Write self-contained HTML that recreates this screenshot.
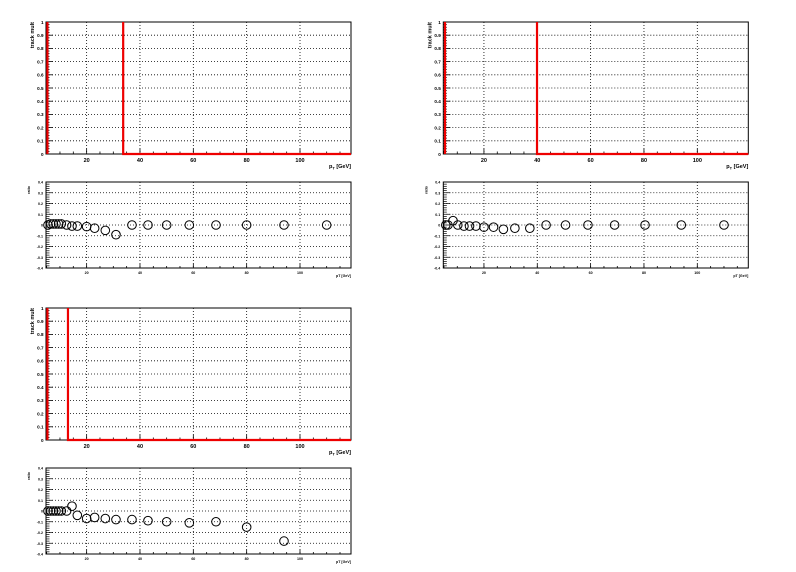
<!DOCTYPE html>
<html><head><meta charset="utf-8">
<style>
html,body{margin:0;padding:0;background:#fff;}
svg{display:block;font-family:"Liberation Sans",Arial,sans-serif;}
</style></head>
<body>
<svg id="c" width="796" height="572" viewBox="0 0 796 572"></svg>
<script>
// ---- data ----
const pad1X = [5.5,6.5,7.5,8.5,9.5,10.5,12.5,14.5,16.5,20,23,27,31,37,43,50,58.5,68.5,80,94,110];
const pad1Y = [0,0.01,0.01,0.01,0.01,0.01,0.0,-0.01,-0.01,-0.015,-0.03,-0.05,-0.09,0,0,0,0,0,0,0,0];
const pad2X = [5.7,6.5,8.4,10.2,12.5,14.6,17,20,23.6,27.3,31.6,37.2,43.3,50.6,59,69,80.4,94,110];
const pad2Y = [0,0,0.04,0,-0.01,-0.01,-0.01,-0.02,-0.02,-0.04,-0.03,-0.03,0,0,0,0,0,0,0];
const pad3X = [5.5,6.5,7.5,8.5,9.5,10.5,12.5,14.5,16.5,20,23,27,31,37,43,50,58.5,68.5,80,94];
const pad3Y = [0,0,0,0,0,0,0,0.045,-0.04,-0.07,-0.06,-0.07,-0.08,-0.08,-0.09,-0.1,-0.11,-0.1,-0.15,-0.28];
const cuts = [33.7, 39.9, 13.0];
const histStart = [5.3, 5.4, 5.3];
const xTickLabels = ["20","40","60","80","100"];
const yMainLabels = ["0","0.1","0.2","0.3","0.4","0.5","0.6","0.7","0.8","0.9","1"];
const yRatioLabels = ["-0.4","-0.3","-0.2","-0.1","0","0.1","0.2","0.3","0.4"];

const NS="http://www.w3.org/2000/svg";
const svg=document.getElementById('c');
function mk(tag,attrs,parent){const e=document.createElementNS(NS,tag);for(const k in attrs)e.setAttribute(k,attrs[k]);(parent||svg).appendChild(e);return e;}

const pads=[{dx:0,dy:0,X:pad1X,Y:pad1Y},{dx:397.3,dy:0,X:pad2X,Y:pad2Y},{dx:0,dy:286,X:pad3X,Y:pad3Y}];
const XMIN=4.75, XMAX=119.2;

pads.forEach((p,i)=>{
  const g=mk('g',{});
  
  
  const L=46+p.dx, R=351+p.dx;
  const sx=v=>33.3+p.dx+2.667*v;
  const mT=22+p.dy, mB=154+p.dy;
  const syM=v=>mB-(v)*(mB-mT);
  const ms=mk('g',{},g);
  
  
  xTickLabels.forEach(t=>{const x=sx(+t);mk('line',{x1:x,x2:x,y1:mT,y2:mB,stroke:'#000','stroke-width':0.8,'stroke-dasharray':'1,2'},ms);});
  yMainLabels.forEach(t=>{const v=+t;if(v>0&&v<1){const y=syM(v);mk('line',{x1:L,x2:R,y1:y,y2:y,stroke:'#000','stroke-width':0.8,'stroke-dasharray':'1,2'},ms);}});
  for(let v=0;v<=1.0001;v+=0.02){const y=syM(v);const major=Math.abs(v*10-Math.round(v*10))<1e-6;mk('line',{x1:L,x2:L+(major?7:3.5),y1:y,y2:y,stroke:'#000','stroke-width':0.8},ms);}
  for(let v=5;v<=XMAX;v+=5){const x=sx(v);const major=v%20===0;mk('line',{x1:x,x2:x,y1:mB,y2:mB-(major?5:2.5),stroke:'#000','stroke-width':0.8},ms);}
  yMainLabels.forEach(t=>{const e=mk('text',{x:L-2.5,y:syM(+t)+1.8,'font-size':4.6,'font-weight':'bold','text-anchor':'end'},ms);e.textContent=t;});
  xTickLabels.forEach(t=>{const e=mk('text',{x:sx(+t),y:mB+8,'font-size':5.5,'font-weight':'bold','text-anchor':'middle'},ms);e.textContent=t;});
  mk('rect',{x:L,y:mT,width:R-L,height:mB-mT,fill:'none',stroke:'#000','stroke-width':1},ms);
  const h=mk('path',{d:`M${sx(histStart[i])},${mB} L${sx(histStart[i])},${mT} M${sx(cuts[i])},${mT} L${sx(cuts[i])},${mB} L${R},${mB}`,stroke:'#e00',fill:'none','stroke-width':2.2},ms);
  
  
  const yt=mk('text',{transform:`translate(${34+p.dx},${mT}) rotate(-90)`,'font-size':5.5,'font-weight':'bold','text-anchor':'end'},ms);
  yt.textContent='track mult';
  const xt=mk('text',{x:R,y:mB+14,'font-size':5.5,'font-weight':'bold','text-anchor':'end'},ms);
  xt.innerHTML='p<tspan font-size="4" dy="1.5">T</tspan><tspan dy="-1.5"> [GeV]</tspan>';
  

  const rT=182+p.dy, rB=268+p.dy;
  const syR=v=>rB-(v+0.4)/0.8*(rB-rT);
  const rs=mk('g',{},g);
  
  
  xTickLabels.forEach(t=>{const x=sx(+t);mk('line',{x1:x,x2:x,y1:rT,y2:rB,stroke:'#000','stroke-width':0.8,'stroke-dasharray':'1,2'},rs);});
  yRatioLabels.forEach(t=>{const v=+t;if(v>-0.39&&v<0.39){const y=syR(v);mk('line',{x1:L,x2:R,y1:y,y2:y,stroke:'#000','stroke-width':0.8,'stroke-dasharray':'1,2'},rs);}});
  for(let k=0;k<=40;k++){const v=-0.4+k*0.02;const y=syR(v);const major=k%5===0;mk('line',{x1:L,x2:L+(major?7:3.5),y1:y,y2:y,stroke:'#000','stroke-width':0.7},rs);}
  for(let v=5;v<=XMAX;v+=5){const x=sx(v);const major=v%20===0;mk('line',{x1:x,x2:x,y1:rB,y2:rB-(major?4:2),stroke:'#000','stroke-width':0.8},rs);}
  yRatioLabels.forEach(t=>{const e=mk('text',{x:L-3,y:syR(+t)+1.5,'font-size':3.6,'font-weight':'bold','text-anchor':'end'},rs);e.textContent=t;});
  xTickLabels.forEach(t=>{const e=mk('text',{x:sx(+t),y:rB+6,'font-size':3.6,'font-weight':'bold','text-anchor':'middle'},rs);e.textContent=t;});
  mk('rect',{x:L,y:rT,width:R-L,height:rB-rT,fill:'none',stroke:'#000','stroke-width':1},rs);
  const ry=mk('text',{transform:`translate(${30+p.dx},${rT+8}) rotate(-90)`,'font-size':3.6,'font-weight':'bold','text-anchor':'middle'},rs);
  ry.textContent='ratio';
  const rx=mk('text',{x:R,y:rB+9,'font-size':3.6,'font-weight':'bold','text-anchor':'end'},rs);
  rx.textContent='pT [GeV]';
  p.X.forEach((xv,j)=>{
    const c=mk('circle',{cx:sx(xv),cy:syR(p.Y[j]),r:4.3,fill:'none',stroke:'#000','stroke-width':1},rs);
    
    
  });
});
</script>
</body></html>
